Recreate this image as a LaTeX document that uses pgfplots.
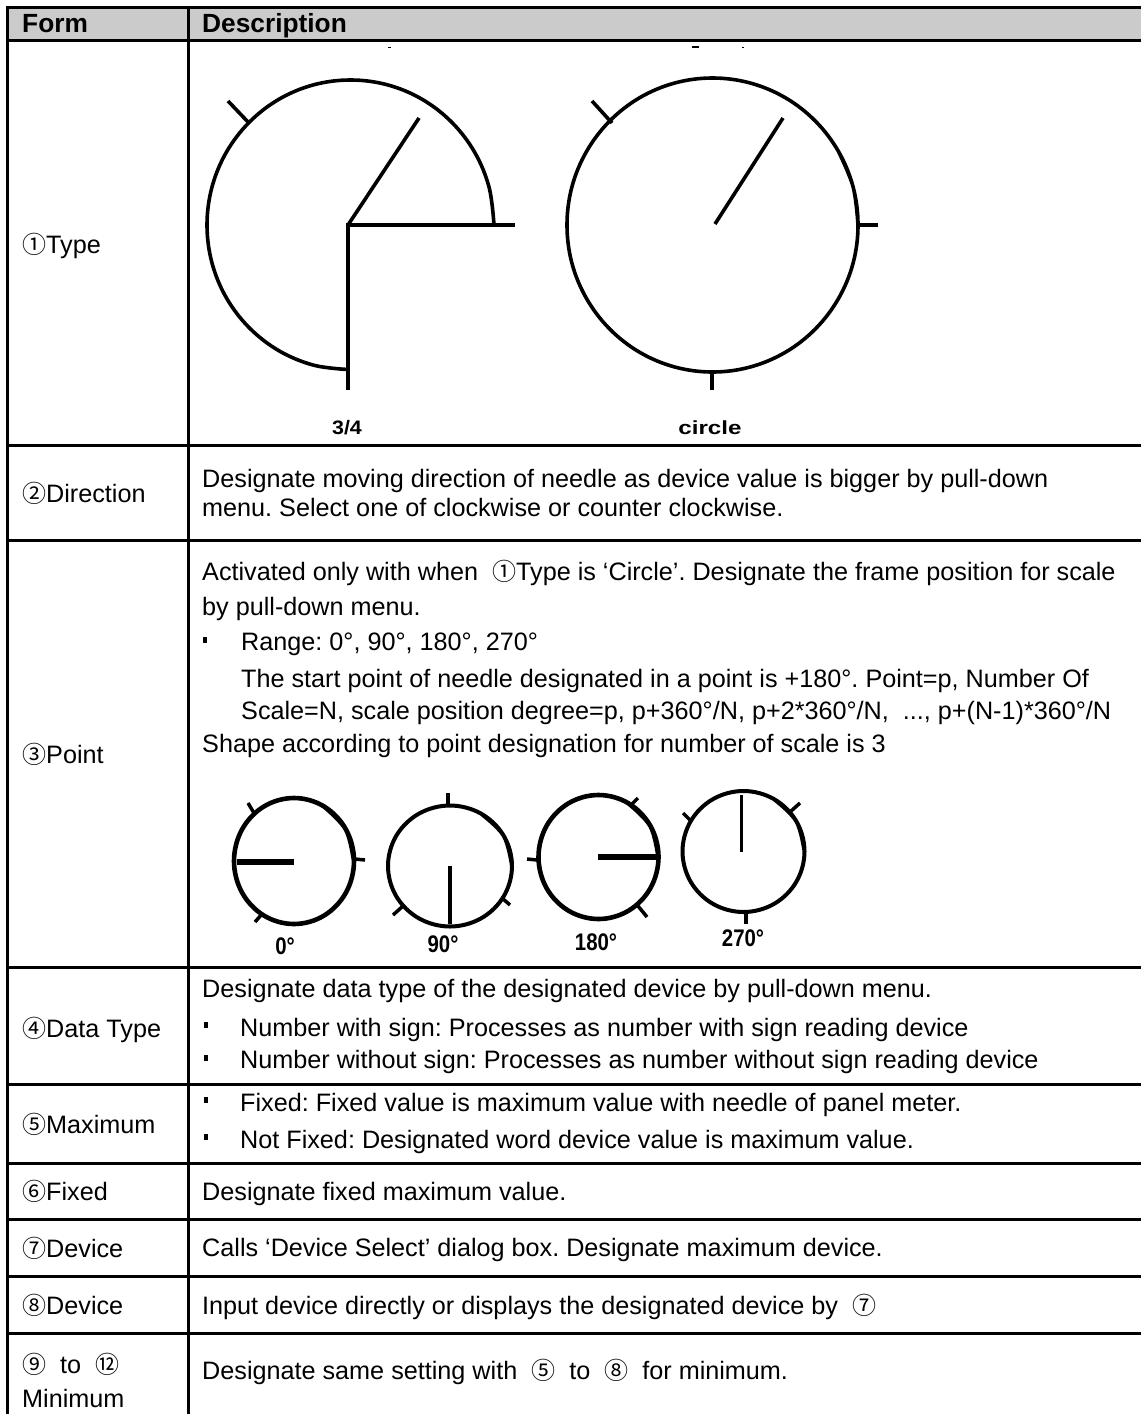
\documentclass[border=0pt]{standalone}
\usepackage{fontspec}
\setmainfont{Liberation Sans}
\newfontfamily\cjk{Noto Sans CJK KR}
\usepackage{pgfplots}
\pgfplotsset{compat=1.18}
\definecolor{hdr}{HTML}{CBCBCB}
\frenchspacing
\newcommand\cn[1]{{\cjk\fontsize{24}{28}\selectfont #1}}
\newcommand\T[3]{\node[anchor=base west,inner sep=0pt] at (axis cs:#1,#2) {\fontsize{25.2}{30}\selectfont\frenchspacing #3};}
\newcommand\B[3]{\node[anchor=base west,inner sep=0pt] at (axis cs:#1,#2) {\fontsize{26.3}{30}\selectfont\bfseries #3};}
\newcommand\Bul[2]{\node[anchor=center,inner sep=0pt] at (axis cs:#1,#2) {\rule{4pt}{6pt}};}
\begin{document}
\begin{tikzpicture}
\path[use as bounding box] (0,0) rectangle (1141pt,1414pt);
\begin{axis}[
  at={(0,0)},anchor=south west,
  width=1141pt,height=1414pt,scale only axis,hide axis,
  xmin=0,xmax=1141,ymin=0,ymax=1414,y dir=reverse,
  clip mode=individual,
  tb/.style={black,line width=3pt,no markers,forget plot},
  g1/.style={black,line width=3.6pt,no markers,line cap=butt,forget plot},
  gs/.style={black,line width=4.6pt,no markers,smooth,tension=0.62,forget plot},
  gl/.style={black,line width=3.5pt,no markers,forget plot},
]
% header band
\addplot[fill=hdr,draw=none,forget plot] coordinates {(7,7)(1141,7)(1141,40)(7,40)} --cycle;
% table rules
\addplot[tb] coordinates {(6,7.5)(1141,7.5)};
\addplot[tb] coordinates {(6,40.5)(1141,40.5)};
\addplot[tb] coordinates {(6,445)(1141,445)};
\addplot[tb] coordinates {(6,540)(1141,540)};
\addplot[tb] coordinates {(6,967)(1141,967)};
\addplot[tb] coordinates {(6,1084)(1141,1084)};
\addplot[tb] coordinates {(6,1163)(1141,1163)};
\addplot[tb] coordinates {(6,1219)(1141,1219)};
\addplot[tb] coordinates {(6,1276)(1141,1276)};
\addplot[tb] coordinates {(6,1333)(1141,1333)};
\addplot[tb] coordinates {(7.5,6)(7.5,1414)};
\addplot[tb] coordinates {(188.5,6)(188.5,1414)};
% clipped fragments
\addplot[black,line width=1pt,no markers,forget plot] coordinates {(388,47.5)(391,47.5)};
\addplot[black,line width=1.5pt,no markers,forget plot] coordinates {(692,47)(699,47)};
\addplot[black,line width=1pt,no markers,forget plot] coordinates {(742,47.5)(744,47.5)};
% 3/4 gauge
\addplot[g1,smooth,tension=0.61] coordinates {(494,225)(489.1,187.4)(474.8,152.5)(452,122.5)(422.3,99.4)(387.7,84.9)(350.5,80)(313.3,84.9)(278.7,99.4)(249,122.5)(226.2,152.5)(211.9,187.4)(207,225)(211.9,262.6)(226.2,297.5)(249,327.5)(278.7,350.6)(313.3,365.1)(348,369.5)};
\addplot[g1] coordinates {(515,225)(348,225)(348,390)};
\addplot[g1] coordinates {(348,225)(419,118)};
\addplot[g1] coordinates {(228,101)(249,123)};
% circle gauge
\addplot[g1,smooth,tension=0.61] coordinates {(858,225)(853.1,186.9)(838.5,151.5)(815.4,121.1)(785.3,97.7)(750.2,83)(712.5,78)(674.8,83)(639.7,97.7)(609.6,121.1)(586.5,151.5)(571.9,186.9)(567,225)(571.9,263.1)(586.5,298.5)(609.6,328.9)(639.7,352.3)(674.8,367)(712.5,372)(750.2,367)(785.3,352.3)(815.4,328.9)(838.5,298.5)(853.1,263.1)(858,225)(853.1,186.9)(838.5,151.5)};
\addplot[g1] coordinates {(715,224)(783,118)};
\addplot[g1] coordinates {(592,101)(612,123)};
\addplot[g1] coordinates {(858,225)(878,225)};
\addplot[g1] coordinates {(712,370)(712,390)};
% 0 deg
\addplot[gs] coordinates {(354,861)(346,829.5)(324,806.4)(294,798)(264,806.4)(242,829.5)(234,861)(242,892.5)(264,915.6)(294,924)(324,915.6)(346,892.5)(354,861)(346,829.5)(324,806.4)};
\addplot[black,line width=6.5pt,no markers,forget plot] coordinates {(237,862)(294,862)};
\addplot[gl] coordinates {(248,803)(254,813)};
\addplot[gl] coordinates {(355,859)(365,860)};
\addplot[gl] coordinates {(255,922)(262,914)};
% 90 deg
\addplot[gs,line width=4pt] coordinates {(512,866)(503.7,835.7)(481,813.6)(450,805.5)(419,813.6)(396.3,835.7)(388,866)(396.3,896.3)(419,918.4)(450,926.5)(481,918.4)(503.7,896.3)(512,866)(503.7,835.7)(481,813.6)};
\addplot[black,line width=4.5pt,no markers,forget plot] coordinates {(450,866)(450,924)};
\addplot[gl] coordinates {(448,793)(448,805)};
\addplot[gl] coordinates {(393,915)(403,906)};
\addplot[gl] coordinates {(510,905)(502,898)};
% 180 deg
\addplot[gs] coordinates {(658.5,857)(650.5,826)(628.5,803.3)(598.5,795)(568.5,803.3)(546.5,826)(538.5,857)(546.5,888)(568.5,910.7)(598.5,919)(628.5,910.7)(650.5,888)(658.5,857)(650.5,826)(628.5,803.3)};
\addplot[black,line width=6.5pt,no markers,forget plot] coordinates {(598,857)(656,857)};
\addplot[gl] coordinates {(527,859)(537,860)};
\addplot[gl] coordinates {(638,798)(632,804)};
\addplot[gl] coordinates {(647,917)(638,906)};
% 270 deg
\addplot[gs,line width=4pt] coordinates {(804.5,851.5)(796.3,821.2)(774,799.1)(743.5,791)(713,799.1)(690.7,821.2)(682.5,851.5)(690.7,881.8)(713,903.9)(743.5,912)(774,903.9)(796.3,881.8)(804.5,851.5)(796.3,821.2)(774,799.1)};
\addplot[black,line width=3pt,no markers,forget plot] coordinates {(741.5,795)(741.5,852)};
\addplot[gl] coordinates {(746,913)(746,924)};
\addplot[gl] coordinates {(683,813)(690,820)};
\addplot[gl] coordinates {(800,803)(790,812)};
% header text
\B{22}{32}{Form}
\B{202}{32}{Description}
% gauge labels
\node[inner sep=0pt,anchor=base,xscale=1.1] at (axis cs:347,434) {\fontsize{19.5}{22}\selectfont\bfseries 3/4};
\node[inner sep=0pt,anchor=base,xscale=1.27] at (axis cs:710,434) {\fontsize{19}{22}\selectfont\bfseries circle};
\node[inner sep=0pt,anchor=base,xscale=0.85] at (axis cs:285,954) {\fontsize{24}{26}\selectfont\bfseries 0°};
\node[inner sep=0pt,anchor=base,xscale=0.85] at (axis cs:443,952.5) {\fontsize{24}{26}\selectfont\bfseries 90°};
\node[inner sep=0pt,anchor=base,xscale=0.85] at (axis cs:596,950) {\fontsize{24}{26}\selectfont\bfseries 180°};
\node[inner sep=0pt,anchor=base,xscale=0.85] at (axis cs:743,946) {\fontsize{24}{26}\selectfont\bfseries 270°};
% first column
\T{22}{253}{\cn{①}Type}
\T{22}{502}{\cn{②}Direction}
\T{22}{763}{\cn{③}Point}
\T{22}{1037}{\cn{④}Data Type}
\T{22}{1133}{\cn{⑤}Maximum}
\T{22}{1200}{\cn{⑥}Fixed}
\T{22}{1257}{\cn{⑦}Device}
\T{22}{1314}{\cn{⑧}Device}
\T{22}{1373}{\cn{⑨}\ \ to\ \ \cn{⑫}}
\T{22}{1407}{Minimum}
% description column
\T{202}{487}{Designate moving direction of needle as device value is bigger by pull-down}
\T{202}{516}{menu. Select one of clockwise or counter clockwise.}
\T{202}{580}{Activated only with when\ \ \cn{①}Type is ‘Circle’. Designate the frame position for scale}
\T{202}{615}{by pull-down menu.}
\Bul{205}{640}
\T{241}{650}{Range: 0°, 90°, 180°, 270°}
\T{241}{687}{The start point of needle designated in a point is +180°. Point=p, Number Of}
\T{241}{719}{Scale=N, scale position degree=p, p+360°/N, p+2*360°/N,\ \ ..., p+(N-1)*360°/N}
\T{202}{752}{Shape according to point designation for number of scale is 3}
\T{202}{997}{Designate data type of the designated device by pull-down menu.}
\Bul{206}{1025}
\T{240}{1036}{Number with sign: Processes as number with sign reading device}
\Bul{206}{1058}
\T{240}{1068}{Number without sign: Processes as number without sign reading device}
\Bul{206}{1100}
\T{240}{1111}{Fixed: Fixed value is maximum value with needle of panel meter.}
\Bul{206}{1137}
\T{240}{1148}{Not Fixed: Designated word device value is maximum value.}
\T{202}{1200}{Designate fixed maximum value.}
\T{202}{1256}{Calls ‘Device Select’ dialog box. Designate maximum device.}
\T{202}{1314}{Input device directly or displays the designated device by\ \ \cn{⑦}}
\T{202}{1379}{Designate same setting with\ \ \cn{⑤}\ \ to\ \ \cn{⑧}\ \ for minimum.}
\end{axis}
\end{tikzpicture}
\end{document}
